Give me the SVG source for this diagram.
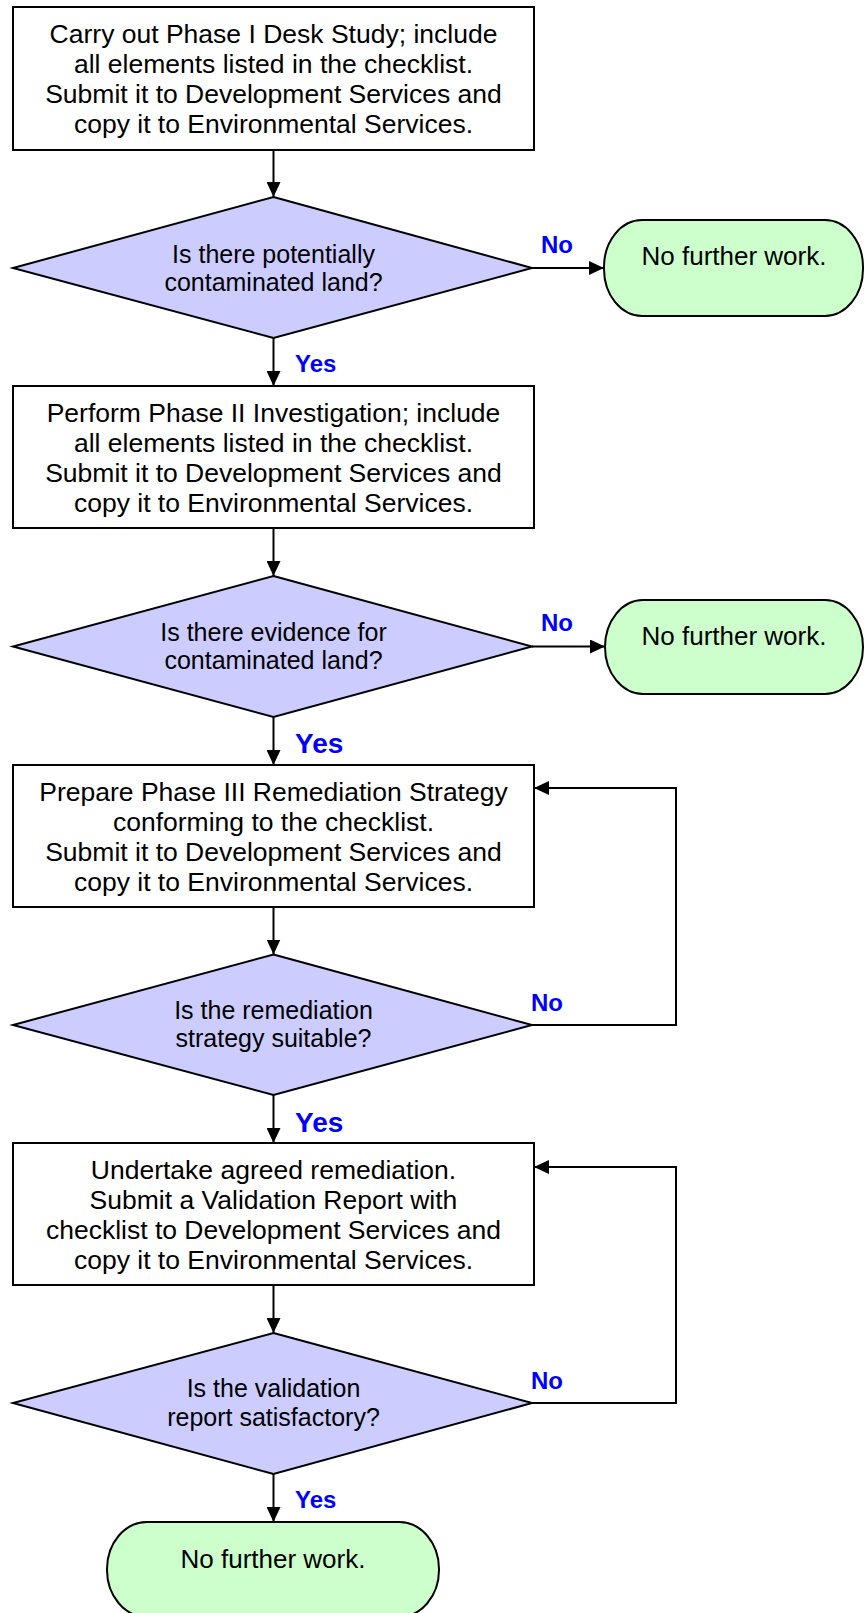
<svg xmlns="http://www.w3.org/2000/svg" width="865" height="1613" viewBox="0 0 865 1613">
<defs>
<marker id="ah" markerWidth="16" markerHeight="14" refX="15" refY="7" orient="auto" markerUnits="userSpaceOnUse">
<path d="M0,0 L15,7 L0,14 Z" fill="#000"/>
</marker>
<style>
.box{fill:#fff;stroke:#000;stroke-width:2}
.dia{fill:#CCCCFF;stroke:#000;stroke-width:2}
.term{fill:#CCFFCC;stroke:#000;stroke-width:2}
.t{font-family:"Liberation Sans",Arial,sans-serif;font-size:26.5px;fill:#000;text-anchor:middle}
.dt{font-family:"Liberation Sans",Arial,sans-serif;font-size:25px;fill:#000;text-anchor:middle}
.tt{font-family:"Liberation Sans",Arial,sans-serif;font-size:26px;fill:#000;text-anchor:middle}
.lbl{font-family:"Liberation Sans",Arial,sans-serif;font-weight:bold;font-size:24px;fill:#0000FF}
.lblb{font-family:"Liberation Sans",Arial,sans-serif;font-weight:bold;font-size:28px;fill:#0000FF}
.c{fill:none;stroke:#000;stroke-width:2;marker-end:url(#ah)}
</style>
</defs>
<rect width="865" height="1613" fill="#fff"/>

<g id="connectors">
<path class="c" d="M273.5,150 L273.5,197"/>
<path class="c" d="M532,268 L604,268"/>
<path class="c" d="M273.5,338 L273.5,386"/>
<path class="c" d="M273.5,528 L273.5,576"/>
<path class="c" d="M532,646.5 L605,646.5"/>
<path class="c" d="M273.5,717 L273.5,765"/>
<path class="c" d="M273.5,907 L273.5,954.5"/>
<path class="c" d="M532,1025 L676,1025 L676,788 L534,788"/>
<path class="c" d="M273.5,1095 L273.5,1143"/>
<path class="c" d="M273.5,1285 L273.5,1333"/>
<path class="c" d="M532,1403 L676,1403 L676,1167 L534,1167"/>
<path class="c" d="M273.5,1474 L273.5,1522"/>
<text class="lbl" x="541" y="253">No</text>
<text class="lbl" x="295" y="371.5">Yes</text>
<text class="lbl" x="541" y="631">No</text>
<text class="lblb" x="295" y="753">Yes</text>
<text class="lbl" x="531" y="1010.5">No</text>
<text class="lblb" x="295" y="1131.5">Yes</text>
<text class="lbl" x="531" y="1389">No</text>
<text class="lbl" x="295" y="1508">Yes</text>
</g>

<g id="box1">
<rect class="box" x="13" y="7" width="521" height="143"/>
<text class="t" x="273.5" y="43">Carry out Phase I Desk Study; include</text>
<text class="t" x="273.5" y="73">all elements listed in the checklist.</text>
<text class="t" x="273.5" y="103">Submit it to Development Services and</text>
<text class="t" x="273.5" y="133">copy it to Environmental Services.</text>
</g>

<g id="dec1">
<polygon class="dia" points="273.5,197 532,268 273.5,338 13,268"/>
<text class="dt" x="273.5" y="263">Is there potentially</text>
<text class="dt" x="273.5" y="291">contaminated land?</text>
</g>

<g id="end1">
<rect class="term" x="604" y="220" width="259" height="96" rx="38" ry="47"/>
<text class="tt" x="734" y="265">No further work.</text>
</g>

<g id="box2">
<rect class="box" x="13" y="386" width="521" height="142"/>
<text class="t" x="273.5" y="422">Perform Phase II Investigation; include</text>
<text class="t" x="273.5" y="452">all elements listed in the checklist.</text>
<text class="t" x="273.5" y="482">Submit it to Development Services and</text>
<text class="t" x="273.5" y="512">copy it to Environmental Services.</text>
</g>

<g id="dec2">
<polygon class="dia" points="273.5,576 532,646.5 273.5,717 13,646.5"/>
<text class="dt" x="273.5" y="640.5">Is there evidence for</text>
<text class="dt" x="273.5" y="668.5">contaminated land?</text>
</g>

<g id="end2">
<rect class="term" x="605" y="600" width="258" height="94" rx="38" ry="47"/>
<text class="tt" x="734" y="645">No further work.</text>
</g>

<g id="box3">
<rect class="box" x="13" y="765" width="521" height="142"/>
<text class="t" x="273.5" y="801">Prepare Phase III Remediation Strategy</text>
<text class="t" x="273.5" y="831">conforming to the checklist.</text>
<text class="t" x="273.5" y="861">Submit it to Development Services and</text>
<text class="t" x="273.5" y="891">copy it to Environmental Services.</text>
</g>

<g id="dec3">
<polygon class="dia" points="273.5,954.5 532,1025 273.5,1095 13,1025"/>
<text class="dt" x="273.5" y="1019">Is the remediation</text>
<text class="dt" x="273.5" y="1047">strategy suitable?</text>
</g>

<g id="box4">
<rect class="box" x="13" y="1143" width="521" height="142"/>
<text class="t" x="273.5" y="1179">Undertake agreed remediation.</text>
<text class="t" x="273.5" y="1209">Submit a Validation Report with</text>
<text class="t" x="273.5" y="1239">checklist to Development Services and</text>
<text class="t" x="273.5" y="1269">copy it to Environmental Services.</text>
</g>

<g id="dec4">
<polygon class="dia" points="273.5,1333 532,1403 273.5,1474 13,1403"/>
<text class="dt" x="273.5" y="1397">Is the validation</text>
<text class="dt" x="273.5" y="1425.5">report satisfactory?</text>
</g>

<g id="end3">
<rect class="term" x="107" y="1522" width="332" height="95" rx="40" ry="47"/>
<text class="tt" x="273" y="1567.5">No further work.</text>
</g>
</svg>
